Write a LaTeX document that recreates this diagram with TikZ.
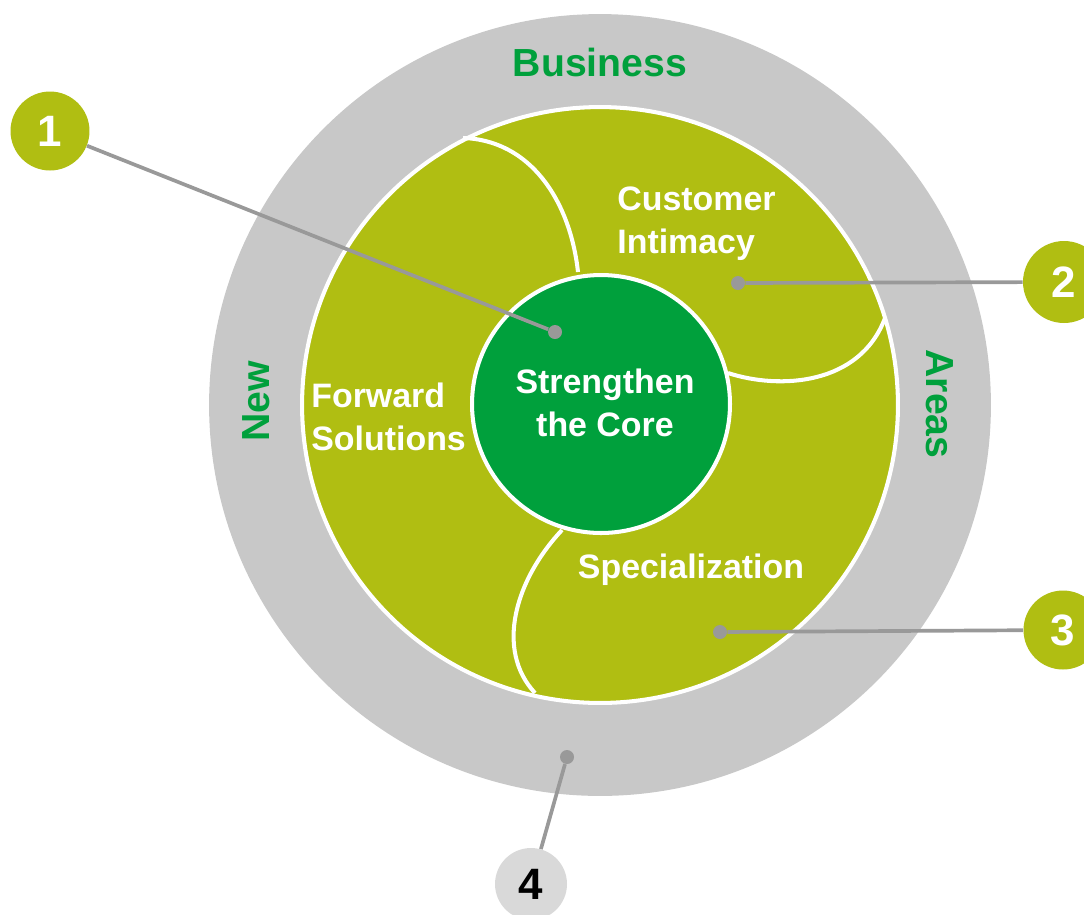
\documentclass[tikz,border=0pt]{standalone}
\usepackage{fontspec}
\setmainfont{Liberation Sans}
\definecolor{lime}{HTML}{B0BE12}
\definecolor{core}{HTML}{00A03C}
\definecolor{ring}{HTML}{C8C8C8}
\definecolor{conn}{HTML}{999999}
\definecolor{badgegray}{HTML}{D9D9D9}
\begin{document}
\begin{tikzpicture}[x=0.02cm,y=-0.02cm,
  lbl/.style={text=white,font=\bfseries\fontsize{19.3}{24.4}\selectfont,inner sep=0pt},
  ringlbl/.style={text=core,font=\bfseries\fontsize{22.3}{26}\selectfont,inner sep=0pt},
  badge/.style={circle,fill=lime,minimum size=1.58cm,inner sep=0pt,text=white,font=\bfseries\fontsize{25}{30}\selectfont},
  dot/.style={circle,fill=conn,minimum size=0.28cm,inner sep=0pt},
  conline/.style={draw=conn,line width=2.1pt},
  divider/.style={draw=white,line width=2.3pt}]
\useasboundingbox (0,0) rectangle (1084,914);
% rings
\node[circle,fill=ring,minimum size=15.64cm,inner sep=0pt] (outer) at (600,405) {};
\node[circle,fill=lime,draw=white,line width=2.3pt,minimum size=11.92cm,inner sep=0pt] (mid) at (600,405) {};
% dividers
\draw[divider] (463,138) .. controls (530,140) and (570,200) .. (578,272);
\draw[divider] (885,318) .. controls (860,385) and (780,390) .. (728,373);
\draw[divider] (562,530) .. controls (515,580) and (495,650) .. (535,693);
% core
\node[circle,fill=core,draw=white,line width=2.3pt,minimum size=5.16cm,inner sep=0pt] (core) at (601,404) {};
\node[lbl,align=center] (coretxt) at (605,403) {Strengthen\\the Core};
% segment labels
\node[lbl,align=left,anchor=west] (ci) at (617,224) {Customer\\Intimacy};
\node[lbl,align=left,anchor=west] (fs) at (311,417) {Forward\\Solutions};
\node[lbl] (sp) at (691,570) {Specialization};
% ring labels
\node[ringlbl] (bus) at (600,62) {Business};
\node[ringlbl,rotate=90] (new) at (256,401) {New};
\node[ringlbl,rotate=-90] (areas) at (940,404) {Areas};
% dots
\node[dot] (d1) at (555,332) {};
\node[dot] (d2) at (738,283) {};
\node[dot] (d3) at (720,632) {};
\node[dot] (d4) at (567,757) {};
% badges
\node[badge] (b1) at (50,131) {1};
\node[badge,minimum size=1.64cm] (b2) at (1064,282) {2};
\node[badge] (b3) at (1063,630) {3};
\node[badge,fill=badgegray,text=black,minimum size=1.44cm] (b4) at (531,884) {4};
% connectors
\draw[conline] (b1) -- (d1);
\draw[conline] (d2) -- (b2);
\draw[conline] (d3) -- (b3);
\draw[conline] (d4) -- (b4);
\end{tikzpicture}
\end{document}
